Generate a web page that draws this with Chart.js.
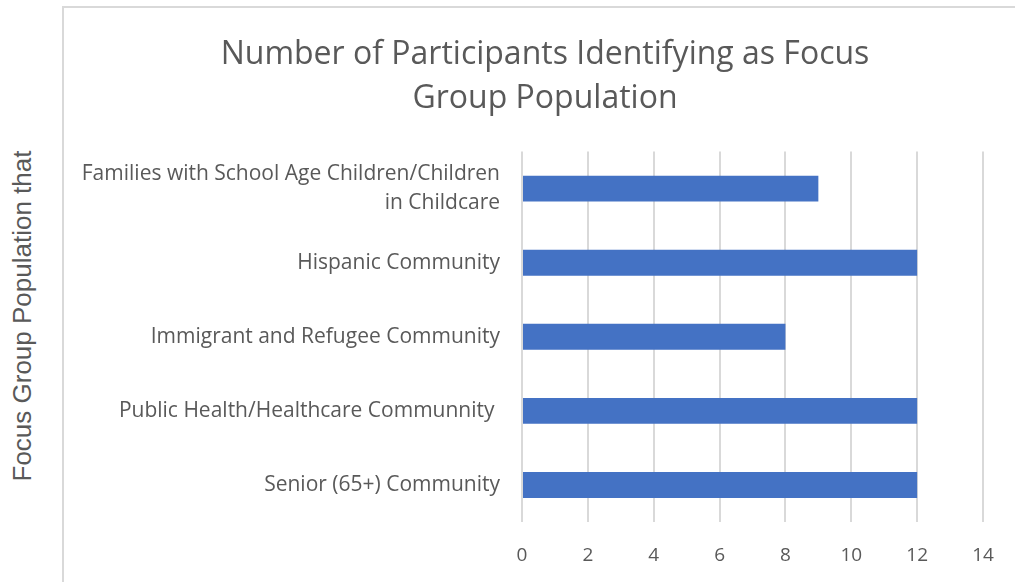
<!DOCTYPE html>
<html>
<head>
<meta charset="utf-8">
<script src="https://cdn.jsdelivr.net/npm/chart.js@4.4.1/dist/chart.umd.min.js"></script>
<style>
html, body { margin: 0; padding: 0; background: #fff; width: 1015px; height: 582px; overflow: hidden; }
.frame { position: absolute; left: 62px; top: 6px; width: 960px; height: 590px; border-left: 2px solid #d9d9d9; border-top: 2px solid #d9d9d9; }
.wrap { position: absolute; left: 64px; top: 8px; width: 951px; height: 574px; }
.ytitle { position: absolute; left: 22px; top: 316px; transform: translate(-50%, -50%) rotate(-90deg); white-space: nowrap; font-family: "Liberation Sans", Arial, sans-serif; font-size: 26px; color: #595959; }
</style>
</head>
<body>
<div class="frame"></div>
<div class="ytitle">Focus Group Population that</div>
<div class="wrap"><canvas id="chart" width="951" height="574"></canvas></div>
<script>
// Data
const categories = [
    ['Families with School Age Children/Children', 'in Childcare'],
    'Hispanic Community',
    'Immigrant and Refugee Community',
    'Public Health/Healthcare Communnity ',
    'Senior (65+) Community'
];
const participants = [9, 12, 8, 12, 12];
const xTicks = [0, 2, 4, 6, 8, 10, 12, 14];

const textGray = '#595959';
const gridGray = '#d9d9d9';
const fontFamily = '"Open Sans", "Noto Sans", sans-serif';

new Chart(document.getElementById('chart'), {
    type: 'bar',
    data: {
        labels: categories,
        datasets: [{ data: participants, backgroundColor: '#4472c4', borderWidth: 0, categoryPercentage: 1, barPercentage: 0.35 }]
    },
    options: {
        indexAxis: 'y',
        responsive: false,
        animation: false,
        // asymmetric padding keeps the title centred like the original
        layout: { padding: { left: 16, right: 5, top: 0, bottom: 0 } },
        plugins: {
            legend: { display: false },
            tooltip: { enabled: false },
            title: {
                display: true,
                text: ['Number of Participants Identifying as Focus', 'Group Population'],
                color: textGray,
                font: { family: fontFamily, size: 32, weight: 'normal', lineHeight: 1.4 },
                padding: { top: 24, bottom: 30 }
            }
        },
        scales: {
            x: {
                min: 0, max: 14,
                afterBuildTicks: s => { s.ticks = xTicks.map(v => ({ value: v })); },
                afterFit: s => { s.height = 60; s.paddingRight = 32; },
                grid: { color: gridGray, lineWidth: 2, drawTicks: false },
                border: { display: false },
                ticks: { color: textGray, font: { family: fontFamily, size: 19 }, padding: 22 }
            },
            y: {
                afterFit: s => { s.width = 442; },
                grid: { display: false },
                border: { display: false },
                ticks: { color: textGray, font: { family: fontFamily, size: 21, lineHeight: 1.4 }, padding: 14 }
            }
        }
    }
});
</script>
</body>
</html>
